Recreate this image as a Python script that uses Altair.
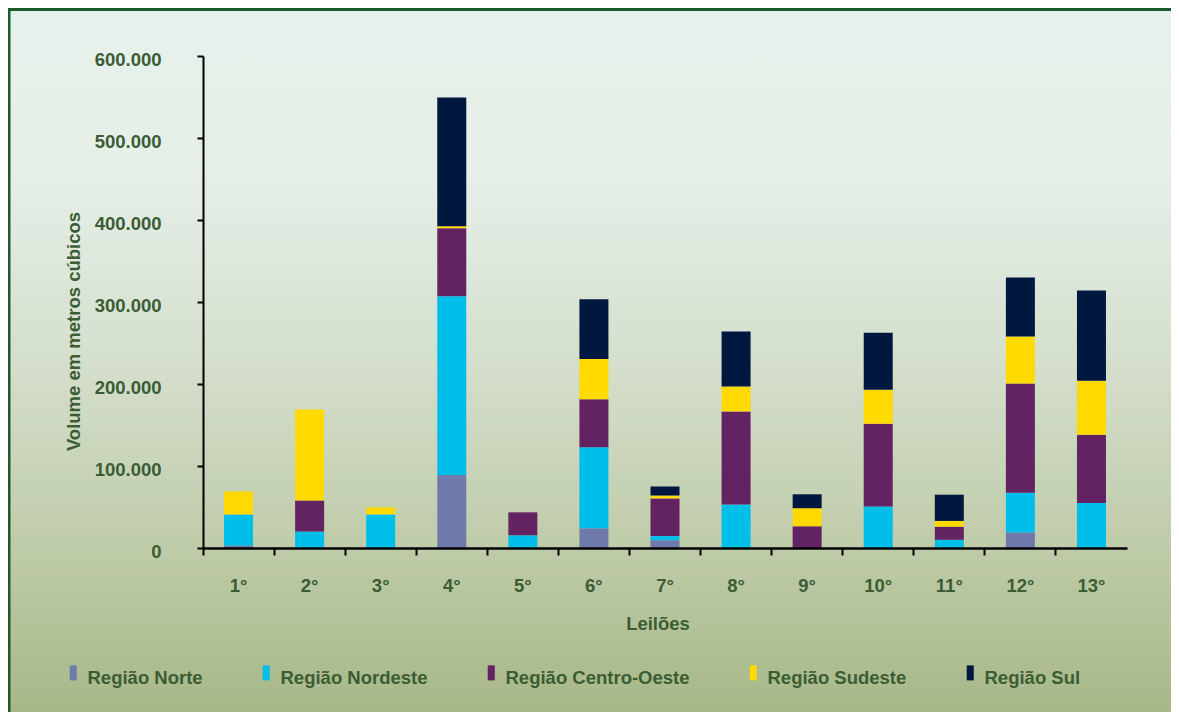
import altair as alt
import pandas as pd

leiloes = ["1°", "2°", "3°", "4°", "5°", "6°", "7°", "8°", "9°", "10°", "11°", "12°", "13°"]
regioes = ["Região Norte", "Região Nordeste", "Região Centro-Oeste", "Região Sudeste", "Região Sul"]
norte = [3000, 0, 0, 89000, 0, 24000, 9500, 0, 0, 0, 0, 19000, 0]
nordeste = [38000, 20000, 41000, 218000, 15500, 99000, 5000, 53000, 0, 50500, 10000, 48500, 55000]
centro_oeste = [0, 38000, 0, 83000, 28000, 58500, 46000, 113500, 26500, 101000, 16000, 133000, 83000]
sudeste = [28000, 111000, 8500, 2500, 0, 49000, 3500, 30500, 22000, 41500, 7000, 57500, 66000]
sul = [0, 0, 0, 157000, 0, 73000, 11000, 67000, 17000, 69500, 32000, 72000, 110000]
cores = ["#6d7aab", "#00beea", "#632261", "#ffd900", "#001840"]

series = [norte, nordeste, centro_oeste, sudeste, sul]
rows = []
for i, (reg, vals) in enumerate(zip(regioes, series)):
    for l, v in zip(leiloes, vals):
        rows.append({"Leilão": l, "Região": reg, "ordem": i, "Volume": v})
df = pd.DataFrame(rows)

TEXT = "#3b5c35"
FONT = "Liberation Sans, Arial, sans-serif"
FS = 18.5
W, H = 924, 492
PAD = {"left": 195, "top": 48, "right": 44, "bottom": 164}
BORDER = "#1d5a2c"
TOTAL_H = H + PAD["top"] + PAD["bottom"]
EDGE = 2.5 / TOTAL_H

one = pd.DataFrame({"a": [0]})

bg = alt.Chart(one).mark_rect(
    fill=alt.LinearGradient(
        gradient="linear",
        stops=[
            alt.GradientStop(offset=0, color=BORDER),
            alt.GradientStop(offset=EDGE, color=BORDER),
            alt.GradientStop(offset=EDGE + 0.0001, color="#e7f1eb"),
            alt.GradientStop(offset=0.24, color="#e5efe8"),
            alt.GradientStop(offset=0.5, color="#d5dfcd"),
            alt.GradientStop(offset=0.75, color="#c0cdab"),
            alt.GradientStop(offset=1, color="#a7b888"),
        ],
        x1=0, x2=0, y1=0, y2=1,
    ),
).encode(
    x=alt.value(-PAD["left"]),
    x2=alt.value(W + PAD["right"]),
    y=alt.value(-PAD["top"]),
    y2=alt.value(H + PAD["bottom"]),
)

edge_left = alt.Chart(one).mark_rect(fill=BORDER).encode(
    x=alt.value(-PAD["left"]),
    x2=alt.value(-PAD["left"] + 2.5),
    y=alt.value(-PAD["top"]),
    y2=alt.value(H + PAD["bottom"]),
)

bars = alt.Chart(df).mark_bar(width=29).encode(
    x=alt.X(
        "Leilão:N",
        sort=leiloes,
        scale=alt.Scale(paddingInner=0, paddingOuter=0),
        axis=alt.Axis(
            title="Leilões",
            labelAngle=0,
            bandPosition=0,
            tickSize=7,
            tickWidth=2,
            tickColor="black",
            domainColor="black",
            domainWidth=2.5,
            labelPadding=21,
            labelFont=FONT,
            labelFontSize=FS,
            labelFontWeight="bold",
            labelColor=TEXT,
            titleFont=FONT,
            titleFontSize=FS,
            titleFontWeight="bold",
            titleColor=TEXT,
            titleX=454.5,
            titleY=75,
            titleAlign="center",
            titleBaseline="middle",
            grid=False,
            zindex=1,
        ),
    ),
    y=alt.Y(
        "Volume:Q",
        stack="zero",
        scale=alt.Scale(domain=[0, 600000], nice=False),
        axis=alt.Axis(
            title="Volume em metros cúbicos",
            values=[0, 100000, 200000, 300000, 400000, 500000, 600000],
            format=",.0f",
            tickSize=6,
            tickWidth=2,
            tickColor="black",
            domainColor="black",
            domainWidth=2,
            labelPadding=36,
            labelOffset=3,
            labelFont=FONT,
            labelFontSize=FS,
            labelFontWeight="bold",
            labelColor=TEXT,
            titleFont=FONT,
            titleFontSize=FS,
            titleFontWeight="bold",
            titleColor=TEXT,
            titleAngle=270,
            titleX=-130,
            titleY=275,
            titleAlign="center",
            titleBaseline="middle",
            grid=False,
            zindex=1,
        ),
    ),
    color=alt.Color(
        "Região:N",
        scale=alt.Scale(domain=regioes, range=cores),
        legend=alt.Legend(
            title=None,
            orient="none",
            legendX=-139,
            legendY=613,
            direction="horizontal",
            symbolType="M-0.47,-1.73L0.47,-1.73L0.47,0.27L-0.47,0.27Z",
            symbolSize=225,
            symbolStrokeWidth=0,
            labelOffset=5,
            columnPadding=54,
            padding=0,
            labelFont=FONT,
            labelFontSize=FS,
            labelFontWeight="bold",
            labelColor=TEXT,
            labelLimit=400,
            zindex=1,
        ),
    ),
    order=alt.Order("ordem:Q", sort="ascending"),
)

chart = alt.layer(bg, edge_left, bars).properties(
    width=W,
    height=H,
    autosize=alt.AutoSizeParams(type="none"),
    padding=PAD,
).configure_view(stroke=None).configure(
    locale={"number": {"decimal": ",", "thousands": ".", "grouping": [3], "currency": ["R$", ""]}}
)

chart.save("out.html", embed_options={"renderer": "svg", "actions": False})
